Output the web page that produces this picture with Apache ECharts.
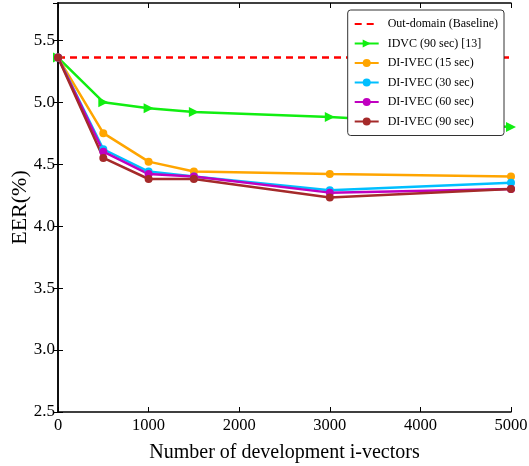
<!DOCTYPE html>
<html><head><meta charset="utf-8">
<script src="https://cdn.jsdelivr.net/npm/echarts@6/dist/echarts.min.js"></script>
<style>html,body{margin:0;padding:0;background:#fff}#c{width:529px;height:466px}</style>
</head><body><div id="c"></div>
<script>
const xVals = [0, 500, 1000, 1500, 3000, 5000];
const baseline = 5.36;
const idvc90 = [5.36, 5.00, 4.95, 4.92, 4.88, 4.80];
const divec15 = [5.36, 4.75, 4.52, 4.44, 4.42, 4.40];
const divec30 = [5.36, 4.62, 4.44, 4.40, 4.29, 4.35];
const divec60 = [5.36, 4.60, 4.42, 4.40, 4.27, 4.30];
const divec90 = [5.36, 4.55, 4.38, 4.38, 4.23, 4.30];
const names = ['Out-domain (Baseline)', 'IDVC (90 sec) [13]', 'DI-IVEC (15 sec)', 'DI-IVEC (30 sec)', 'DI-IVEC (60 sec)', 'DI-IVEC (90 sec)'];
const font = 'Liberation Serif';
const pair = arr => xVals.map((x, i) => [x, arr[i]]);
const lineSeries = (name, arr, color, extra) => Object.assign({
  name, type: 'line', data: pair(arr), symbol: 'circle', symbolSize: 8,
  itemStyle: {color}, lineStyle: {color, width: 2.5}, emphasis: {disabled: true}, animation: false
}, extra || {});
const chart = echarts.init(document.getElementById('c'));
const axisCommon = {
  axisLine: {lineStyle: {color: '#000', width: 1.5}},
  axisTick: {inside: true, length: 5, lineStyle: {color: '#000'}},
  splitLine: {show: false}
};
chart.setOption({
  animation: false,
  grid: {left: 58, right: 18, top: 3, bottom: 54, containLabel: false, outerBoundsMode: 'none'},
  legend: {
    right: 25, top: 10, orient: 'vertical', itemGap: 7.5, itemWidth: 24, itemHeight: 10,
    borderColor: '#333', borderWidth: 1, borderRadius: 3, padding: [8, 6, 8, 6],
    backgroundColor: '#fff',
    textStyle: {fontFamily: font, fontSize: 12, color: '#000', padding: [0, 0, 0, 4]},
    data: [{name: names[0], itemStyle: {opacity: 0}}].concat(names.slice(1))
  },
  xAxis: [
    Object.assign({type: 'value', min: 0, max: 5000, interval: 1000,
      name: 'Number of development i-vectors', nameLocation: 'middle', nameGap: 31, nameMoveOverlap: false,
      nameTextStyle: {fontFamily: font, fontSize: 20, color: '#000'},
      axisLabel: {fontFamily: font, fontSize: 16.5, color: '#000', margin: 5, formatter: v => String(v)}}, axisCommon),
    Object.assign({type: 'value', position: 'top', min: 0, max: 5000, interval: 1000,
      axisLabel: {show: false}}, axisCommon)
  ],
  yAxis: [
    Object.assign({type: 'value', min: 2.5, max: 5.8, interval: 0.5,
      name: 'EER(%)', nameLocation: 'middle', nameGap: 27, nameMoveOverlap: false,
      nameTextStyle: {fontFamily: font, fontSize: 22, color: '#000'},
      axisLabel: {fontFamily: font, fontSize: 17, color: '#000', margin: 3,
        formatter: v => v.toFixed(1), showMaxLabel: false}}, axisCommon),
    Object.assign({type: 'value', position: 'right', min: 2.5, max: 5.8, interval: 0.5,
      axisLabel: {show: false}}, axisCommon)
  ],
  series: [
    {name: names[0], type: 'line', data: [[0, baseline], [5000, baseline]], symbol: 'none',
      lineStyle: {color: '#ff0000', width: 2.5, type: [7, 5]}, itemStyle: {color: '#ff0000'}, emphasis: {disabled: true}},
    lineSeries(names[1], idvc90, '#11ee11', {symbol: 'triangle', symbolRotate: -90, symbolSize: 10}),
    lineSeries(names[2], divec15, '#ffa500'),
    lineSeries(names[3], divec30, '#00bfff'),
    lineSeries(names[4], divec60, '#c000c0'),
    lineSeries(names[5], divec90, '#a52a2a')
  ]
});
</script></body></html>
